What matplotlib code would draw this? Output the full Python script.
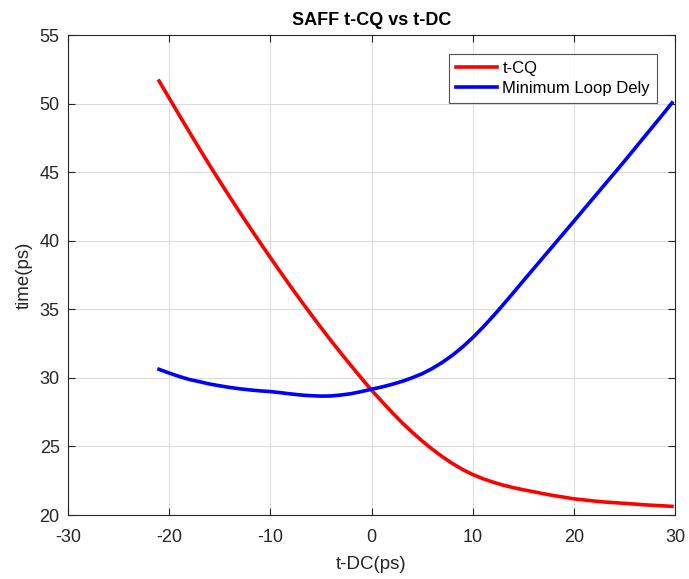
import matplotlib
matplotlib.use("Agg")
import matplotlib.pyplot as plt

plt.rcParams['font.family'] = ['Liberation Sans', 'DejaVu Sans']
plt.rcParams['axes.unicode_minus'] = False

# t-DC sweep (ps)
t_dc = [-21, -20, -19, -18, -17, -16, -15, -14, -13, -12, -11, -10, -9, -8, -7,
        -6, -5, -4, -3, -2, -1, 0, 1, 2, 3, 4, 5, 6, 7, 8, 9, 10, 11, 12, 13,
        14, 15, 16, 17, 18, 19, 20, 21, 22, 23, 24, 25, 26, 27, 28, 29, 29.7]

# clock-to-Q delay (ps)
t_cq = [51.65, 50.4, 49.15, 47.92, 46.7, 45.5, 44.33, 43.18, 42.05, 40.94,
        39.85, 38.77, 37.71, 36.67, 35.65, 34.65, 33.67, 32.71, 31.78, 30.87,
        29.98, 29.1, 28.3, 27.5, 26.75, 26.05, 25.4, 24.8, 24.25, 23.75, 23.32,
        22.95, 22.65, 22.4, 22.18, 22.0, 21.84, 21.7, 21.55, 21.42, 21.3, 21.18,
        21.1, 21.02, 20.95, 20.9, 20.85, 20.8, 20.74, 20.7, 20.66, 20.63]

# minimum loop delay (ps)
min_loop = [30.62, 30.35, 30.1, 29.88, 29.72, 29.55, 29.42, 29.3, 29.2, 29.12,
            29.05, 29.0, 28.92, 28.83, 28.75, 28.7, 28.67, 28.68, 28.75, 28.85,
            29.0, 29.17, 29.33, 29.52, 29.74, 30.0, 30.3, 30.68, 31.13, 31.65,
            32.25, 32.93, 33.68, 34.48, 35.32, 36.19, 37.07, 37.94, 38.81, 39.68,
            40.55, 41.42, 42.3, 43.17, 44.05, 44.92, 45.8, 46.7, 47.6, 48.5,
            49.4, 50.05]

x_ticks = [-30, -20, -10, 0, 10, 20, 30]
y_ticks = [20, 25, 30, 35, 40, 45, 50, 55]

fig = plt.figure(figsize=(6.89, 5.79), dpi=100)
ax = fig.add_axes([68 / 689, 1 - 515 / 579, 607 / 689, 480 / 579])

ax.plot(t_dc, t_cq, color='#ff0000', lw=2.6, label='t-CQ')
ax.plot(t_dc, min_loop, color='#0000ff', lw=2.6, label='Minimum Loop Dely')

ax.set_xlim(-30, 30)
ax.set_ylim(20, 55)
ax.set_xticks(x_ticks)
ax.set_yticks(y_ticks)

ax.grid(True, color='#dcdcdc', lw=0.8)
ax.set_axisbelow(True)
for s in ax.spines.values():
    s.set_color('#262626')
    s.set_linewidth(0.8)
ax.tick_params(direction='in', top=True, right=True, length=5, width=0.8,
               colors='#262626', labelsize=13)
ax.tick_params(axis='x', pad=10)
ax.tick_params(axis='y', pad=6)

ax.set_xlabel('t-DC(ps)', fontsize=13.5, color='#262626', labelpad=7)
ax.set_ylabel('time(ps)', fontsize=13.5, color='#262626', labelpad=5)
ax.set_title('SAFF t-CQ vs t-DC', fontsize=13, fontweight='bold', color='black', pad=7)

leg = ax.legend(loc='upper right', bbox_to_anchor=(0.970, 0.960), fontsize=12,
                frameon=True, fancybox=False, edgecolor='#262626',
                handlelength=2.45, handletextpad=0.35, borderpad=0.4,
                labelspacing=0.3, borderaxespad=0)
leg.get_frame().set_linewidth(0.8)

fig.savefig('out.png', dpi=100)
